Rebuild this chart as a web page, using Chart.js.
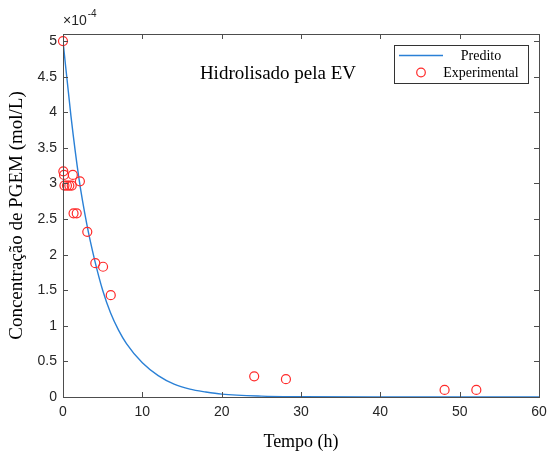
<!DOCTYPE html>
<html>
<head>
<meta charset="utf-8">
<script src="https://cdn.jsdelivr.net/npm/chart.js@4.4.0/dist/chart.umd.min.js"></script>
<style>
body{margin:0;background:#fff}
#wrap{width:549px;height:456px}
</style>
</head>
<body>
<div id="wrap"><canvas id="grafico"></canvas></div>
<script>
// valores em unidades de 1e-4 mol/L
var tempoExp = [0, 0.04, 0.13, 0.18, 0.5, 0.8, 1.1, 1.24, 1.33, 1.73, 2.13, 3.06, 4.07, 5.05, 6.02, 24.1, 28.1, 48.1, 52.1];
var concExp = [5.0, 3.17, 3.12, 2.97, 2.97, 2.97, 2.97, 3.12, 2.58, 2.58, 3.03, 2.32, 1.88, 1.83, 1.43, 0.29, 0.25, 0.10, 0.10];

var tempoPred = [0, 1, 2, 3, 4, 5, 6, 7, 8, 10, 12, 14, 16, 18, 20, 25, 30, 40, 60];
var concPred = [5.0, 3.95, 3.08, 2.43, 1.92, 1.50, 1.18, 0.94, 0.75, 0.48, 0.30, 0.18, 0.11, 0.07, 0.04, 0.012, 0.004, 0, 0];

var xTicks = [0, 10, 20, 30, 40, 50, 60];
var yTicks = [0, 0.5, 1, 1.5, 2, 2.5, 3, 3.5, 4, 4.5, 5];

var azul = '#2a80d6';
var vermelho = '#ff2a2a';

function pares(xs, ys){
	var out = [];
	for(var i in xs){
		out.push({x: xs[i], y: ys[i]});
	}
	return out;
}

var moldura = {
	id: 'moldura',
	afterDraw: function(chart){
		var ctx = chart.ctx;
		var a = chart.chartArea;
		var sx = chart.scales.x, sy = chart.scales.y;
		ctx.save();
		ctx.strokeStyle = '#4d4d4d';
		ctx.lineWidth = 1;
		ctx.strokeRect(Math.round(a.left)+0.5, Math.round(a.top)+0.5, Math.round(a.right-a.left), Math.round(a.bottom-a.top));
		ctx.beginPath();
		xTicks.forEach(function(v){
			var px = Math.round(sx.getPixelForValue(v))+0.5;
			ctx.moveTo(px, a.bottom); ctx.lineTo(px, a.bottom-5);
			ctx.moveTo(px, a.top); ctx.lineTo(px, a.top+5);
		});
		yTicks.forEach(function(v){
			var py = Math.round(sy.getPixelForValue(v))+0.5;
			ctx.moveTo(a.left, py); ctx.lineTo(a.left+5, py);
			ctx.moveTo(a.right, py); ctx.lineTo(a.right-5, py);
		});
		ctx.stroke();

		// fator de escala
		ctx.fillStyle = '#262626';
		ctx.textBaseline = 'alphabetic';
		ctx.textAlign = 'left';
		ctx.font = '14px "Liberation Sans", Arial, sans-serif';
		ctx.fillText('\u00d710', a.left, a.top-9);
		var w = ctx.measureText('\u00d710').width;
		ctx.font = '10px "Liberation Sans", Arial, sans-serif';
		ctx.fillText('-4', a.left+w+1, a.top-17);

		// anotação
		ctx.fillStyle = '#000';
		ctx.textAlign = 'center';
		ctx.textBaseline = 'middle';
		ctx.font = '19px "Liberation Serif", "Times New Roman", serif';
		ctx.fillText('Hidrolisado pela EV', sx.getPixelForValue(27.1), sy.getPixelForValue(4.54));

		// legenda
		var lx = a.right-145, ly = a.top+11, lw = 134, lh = 38;
		ctx.fillStyle = '#fff';
		ctx.fillRect(lx, ly, lw, lh);
		ctx.strokeStyle = '#333';
		ctx.strokeRect(lx+0.5, ly+0.5, lw, lh);
		ctx.strokeStyle = azul;
		ctx.lineWidth = 1.3;
		ctx.beginPath();
		ctx.moveTo(lx+5, ly+10.5); ctx.lineTo(lx+49, ly+10.5);
		ctx.stroke();
		ctx.strokeStyle = vermelho;
		ctx.lineWidth = 1.2;
		ctx.beginPath();
		ctx.arc(lx+27, ly+27.5, 4.3, 0, Math.PI*2);
		ctx.stroke();
		ctx.fillStyle = '#000';
		ctx.font = '14px "Liberation Serif", "Times New Roman", serif';
		ctx.fillText('Predito', lx+87, ly+11);
		ctx.fillText('Experimental', lx+87, ly+28);
		ctx.restore();
	}
};

var ctx = document.getElementById('grafico');

var grafico = new Chart(ctx, {
	type: 'scatter',
	data: {
		datasets: [
			{
				label: 'Predito',
				data: pares(tempoPred, concPred),
				showLine: true,
				borderColor: azul,
				borderWidth: 1.4,
				pointRadius: 0,
				cubicInterpolationMode: 'monotone',
				order: 2
			},
			{
				label: 'Experimental',
				data: pares(tempoExp, concExp),
				showLine: false,
				borderColor: vermelho,
				backgroundColor: 'rgba(0,0,0,0)',
				borderWidth: 1.2,
				pointRadius: 4.5,
				pointStyle: 'circle',
				clip: false,
				order: 1
			}
		]
	},
	options: {
		responsive: true,
		maintainAspectRatio: false,
		animation: false,
		layout: {padding: {top: 34, right: 10, left: 0, bottom: 0}},
		plugins: {
			legend: {display: false},
			tooltip: {enabled: false}
		},
		scales: {
			x: {
				type: 'linear',
				min: 0,
				max: 60,
				afterBuildTicks: function(s){ s.ticks = xTicks.map(function(v){ return {value: v}; }); },
				afterFit: function(s){ s.height = 59; s.paddingLeft = 0; s.paddingRight = 0; },
				grid: {display: false, drawTicks: false},
				border: {display: false},
				ticks: {
					padding: 7,
					color: '#262626',
					font: {family: '"Liberation Sans", Arial, sans-serif', size: 14}
				},
				title: {
					display: true,
					text: 'Tempo (h)',
					color: '#000',
					padding: {top: 4, bottom: 3},
					font: {family: '"Liberation Serif", "Times New Roman", serif', size: 18}
				}
			},
			y: {
				type: 'linear',
				min: 0,
				max: 5.1,
				afterBuildTicks: function(s){ s.ticks = yTicks.map(function(v){ return {value: v}; }); },
				afterFit: function(s){ s.width = 63; s.paddingTop = 0; s.paddingBottom = 0; },
				grid: {display: false, drawTicks: false},
				border: {display: false},
				ticks: {
					padding: 6,
					color: '#262626',
					font: {family: '"Liberation Sans", Arial, sans-serif', size: 14},
					callback: function(v){ return String(v); }
				},
				title: {
					display: true,
					text: 'Concentração de PGEM (mol/L)',
					color: '#000',
					padding: {top: 6, bottom: 2},
					font: {family: '"Liberation Serif", "Times New Roman", serif', size: 19}
				}
			}
		}
	},
	plugins: [moldura]
});
</script>
</body>
</html>
